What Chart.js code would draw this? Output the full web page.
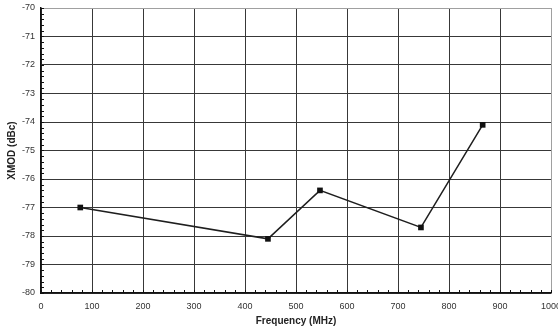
<!DOCTYPE html>
<html>
<head>
<meta charset="utf-8">
<script src="https://cdn.jsdelivr.net/npm/chart.js@4.4.1/dist/chart.umd.min.js"></script>
<style>
  html, body { margin: 0; padding: 0; background: #ffffff; overflow: hidden; }
  #wrap { width: 558px; height: 330px; position: relative; }
</style>
</head>
<body>
<div id="wrap"><canvas id="c" width="558" height="330"></canvas></div>
<script>
// Cross-modulation measured at each carrier frequency
const frequencies = [77, 445, 547, 745, 866];
const xmodValues = [-77.0, -78.1, -76.4, -77.7, -74.1];

// Axis ranges and tick steps
const xRange = [0, 1000];
const xStep = 100;
const yRange = [-80, -70];
const yStep = 1;
const minorDivisions = 5;

const points = frequencies.map((f, i) => ({ x: f, y: xmodValues[i] }));

// Short minor tick marks along the left and bottom axes, pointing inward
const minorTicks = {
  id: 'minorTicks',
  afterDraw(chart) {
    const { ctx, chartArea: a, scales: { x, y } } = chart;
    ctx.save();
    ctx.strokeStyle = '#111';
    ctx.lineWidth = 1;
    ctx.beginPath();
    const xs = xStep / minorDivisions;
    for (let v = xRange[0]; v <= xRange[1] + 1e-9; v += xs) {
      const px = Math.round(x.getPixelForValue(v)) + 0.5;
      ctx.moveTo(px, a.bottom);
      ctx.lineTo(px, a.bottom - 3);
    }
    const ys = yStep / minorDivisions;
    for (let v = yRange[0]; v <= yRange[1] + 1e-9; v += ys) {
      const py = Math.round(y.getPixelForValue(v)) + 0.5;
      ctx.moveTo(a.left, py);
      ctx.lineTo(a.left + 3, py);
    }
    ctx.stroke();
    ctx.restore();
  }
};

new Chart(document.getElementById('c'), {
  type: 'scatter',
  data: {
    datasets: [{
      data: points,
      showLine: true,
      borderColor: '#1e1e1e',
      borderWidth: 1.5,
      backgroundColor: '#111',
      pointStyle: 'rect',
      pointRadius: 4,
      pointBorderWidth: 0,
      pointBackgroundColor: '#111',
      tension: 0
    }]
  },
  options: {
    responsive: false,
    animation: false,
    devicePixelRatio: 1,
    layout: { padding: { left: 0, right: 7, top: 8, bottom: 0 } },
    plugins: { legend: { display: false }, tooltip: { enabled: false } },
    scales: {
      x: {
        type: 'linear',
        min: xRange[0],
        max: xRange[1],
        afterFit(scale) {
          scale.height = 37;
          scale.paddingLeft = 0;
          scale.paddingRight = 0;
        },
        ticks: {
          stepSize: xStep,
          color: '#333',
          padding: 8,
          font: { family: 'Liberation Sans', size: 9 },
          maxRotation: 0,
          callback: (v) => String(v)
        },
        grid: {
          drawTicks: false,
          lineWidth: 1,
          color: (c) => (c.tick && c.tick.value === xRange[1]) ? '#a0a0a0' : '#383838'
        },
        border: { color: '#111', width: 1.5 },
        title: {
          display: true,
          text: 'Frequency (MHz)',
          color: '#222',
          font: { family: 'Liberation Sans', size: 10, weight: 'bold' },
          padding: { top: 2, bottom: 3 }
        }
      },
      y: {
        type: 'linear',
        min: yRange[0],
        max: yRange[1],
        afterFit(scale) {
          scale.width = 41;
          scale.paddingTop = 0;
          scale.paddingBottom = 0;
        },
        ticks: {
          stepSize: yStep,
          color: '#333',
          padding: 6,
          font: { family: 'Liberation Sans', size: 9 },
          callback: (v) => String(v)
        },
        grid: {
          drawTicks: false,
          lineWidth: 1,
          color: (c) => (c.tick && c.tick.value === yRange[1]) ? '#a0a0a0' : '#383838'
        },
        border: { color: '#111', width: 1.5 },
        title: {
          display: true,
          text: 'XMOD (dBc)',
          color: '#222',
          font: { family: 'Liberation Sans', size: 10, weight: 'bold' },
          padding: { top: 6, bottom: 0 }
        }
      }
    }
  },
  plugins: [minorTicks]
});
</script>
</body>
</html>
